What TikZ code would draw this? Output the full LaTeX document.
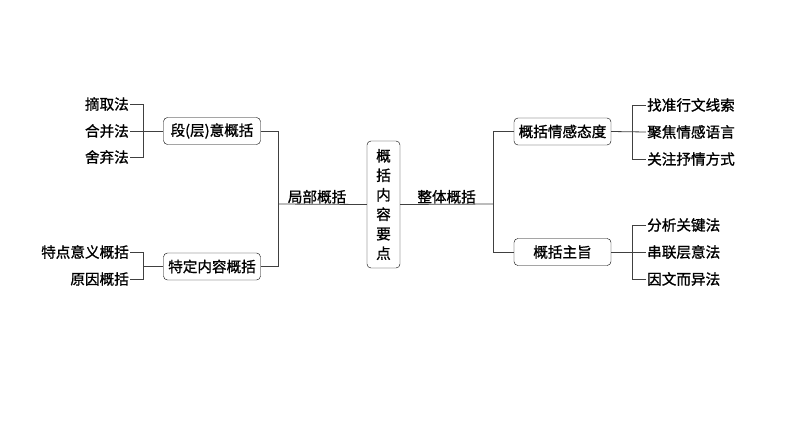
\documentclass[tikz,border=0pt]{standalone}
\usepackage{fontspec}
\setmainfont{Noto Sans CJK SC}[AutoFakeBold = 1.2]
\usetikzlibrary{positioning}
\tikzset{box/.style = {draw, rounded corners = 4, minimum width = 97, minimum height = 27, inner sep = 0}}
\tikzset{leaf/.style = {inner sep = 1}}
\tikzset{conn/.style = {draw = black!75, line width = 0.8}}

\begin{document}
\begin{tikzpicture}[x = 1pt, y = -1pt, font = \fontsize{14.6}{16}\selectfont\bfseries]
      \useasboundingbox (0, 0) rectangle (794, 447);

      \node [box, minimum width = 33, minimum height = 127, align = center, font = \fontsize{14.6}{19.5}\selectfont\bfseries] (main) at (383.5, 204.5) {概\\括\\内\\容\\要\\点};

      \node [box] (duan) at (212, 131) {段(层)意概括};
      \node [box] (teding) at (212, 266.5) {特定内容概括};
      \node [box] (qinggan) at (562.5, 131.5) {概括情感态度};
      \node [box] (zhuzhi) at (562.5, 252) {概括主旨};

      \node [leaf, anchor = east] (zhai) at (130, 104) {摘取法};
      \node [leaf, anchor = east] (hebing) at (130, 131) {合并法};
      \node [leaf, anchor = east] (sheqi) at (130, 157) {舍弃法};
      \node [leaf, anchor = east] (tedian) at (130, 252) {特点意义概括};
      \node [leaf, anchor = east] (yuanyin) at (130, 279) {原因概括};

      \node [leaf, anchor = west] (zhaozhun) at (646, 105) {找准行文线索};
      \node [leaf, anchor = west] (jujiao) at (646, 132) {聚焦情感语言};
      \node [leaf, anchor = west] (guanzhu) at (646, 159) {关注抒情方式};
      \node [leaf, anchor = west] (fenxi) at (646, 225) {分析关键法};
      \node [leaf, anchor = west] (chuanlian) at (646, 252) {串联层意法};
      \node [leaf, anchor = west] (yinwen) at (646, 279) {因文而异法};

      \coordinate (lj) at (143, 131);
      \coordinate (lk) at (143, 266.5);
      \coordinate (lm) at (278, 204);
      \coordinate (rm) at (493, 204);
      \coordinate (rj) at (632, 132);
      \coordinate (rk) at (632, 252);

      \draw [conn] (zhai.east) -| (lj);
      \draw [conn] (sheqi.east) -| (lj);
      \draw [conn] (hebing.east) -- (duan.west);
      \draw [conn] (tedian.east) -| (lk);
      \draw [conn] (yuanyin.east) -| (lk);
      \draw [conn] (lk) -- (teding.west);

      \draw [conn] (duan.east) -| (lm);
      \draw [conn] (teding.east) -| (lm);
      \draw [conn] (lm) -- (main.west) node [pos = 0.44, above = 3] {局部概括};
      \draw [conn] (main.east) -- (rm) node [pos = 0.5, above = 3] {整体概括};
      \draw [conn] (rm) |- (qinggan.west);
      \draw [conn] (rm) |- (zhuzhi.west);

      \draw [conn] (zhaozhun.west) -| (rj);
      \draw [conn] (guanzhu.west) -| (rj);
      \draw [conn] (qinggan.east) -- (jujiao.west);
      \draw [conn] (fenxi.west) -| (rk);
      \draw [conn] (yinwen.west) -| (rk);
      \draw [conn] (zhuzhi.east) -- (chuanlian.west);
    \end{tikzpicture}
\end{document}
